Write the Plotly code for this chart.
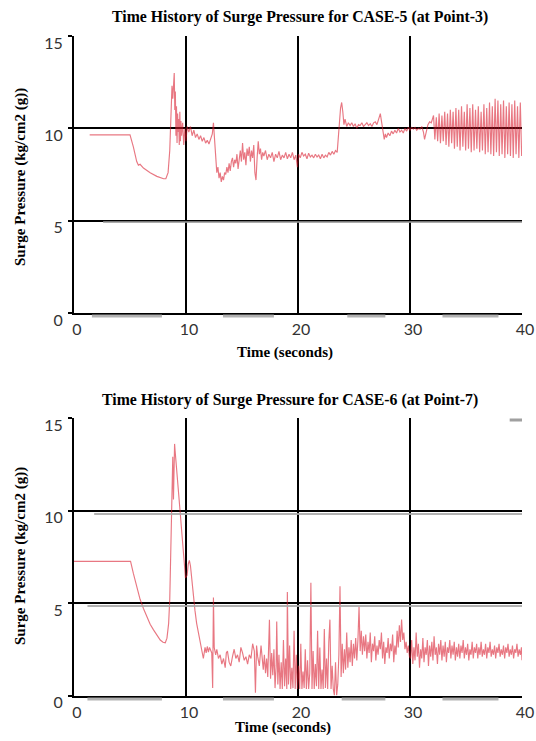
import plotly.graph_objects as go

# ---------------- CASE-5 (at Point-3) ----------------
time5 = [1.4, 5.0, 5.3, 5.6, 5.75, 5.9, 6.2, 6.8, 7.4, 8.0, 8.2, 8.4, 8.55, 8.65, 8.75, 8.82, 8.88, 8.95,
         9.0, 9.05, 9.1, 9.15, 9.2, 9.25, 9.3, 9.35, 9.4, 9.45, 9.5, 9.55, 9.6, 9.7, 9.8, 9.9,
         10.0, 10.1, 10.25, 10.4, 10.55, 10.7, 10.85, 11.0, 11.15, 11.3, 11.45, 11.6, 11.75, 11.9,
         12.05, 12.2, 12.35, 12.45, 12.55, 12.65, 12.75, 12.85, 12.95, 13.05, 13.15, 13.25, 13.35,
         13.45, 13.55, 13.65, 13.75, 13.85, 13.95, 14.05, 14.15, 14.25, 14.35, 14.45, 14.55, 14.65,
         14.75, 14.85, 14.95, 15.05, 15.15, 15.25, 15.35, 15.45, 15.55, 15.65, 15.75, 15.85, 15.95,
         16.05, 16.15, 16.25, 16.35, 16.45, 16.55, 16.65, 16.75, 16.85, 16.95, 17.1, 17.25, 17.4,
         17.55, 17.7, 17.85, 18.0, 18.15, 18.3, 18.45, 18.6, 18.75, 18.9, 19.05, 19.2, 19.35, 19.5,
         19.65, 19.8, 19.95, 20.05, 20.2, 20.35, 20.5, 20.65, 20.8, 20.95, 21.1, 21.25, 21.4, 21.55,
         21.7, 21.85, 22.0, 22.15, 22.3, 22.45, 22.6, 22.75, 22.9, 23.05, 23.2, 23.35, 23.5, 23.6,
         23.7, 23.8, 23.9, 24.0, 24.1, 24.2, 24.35, 24.5, 24.65, 24.8, 24.95, 25.1, 25.25, 25.4,
         25.55, 25.7, 25.85, 26.0, 26.15, 26.3, 26.45, 26.6, 26.75, 26.9, 27.05, 27.2, 27.35, 27.5,
         27.6, 27.7, 27.8, 27.9, 28.05, 28.2, 28.35, 28.5, 28.65, 28.8, 28.95, 29.1, 29.25, 29.4,
         29.55, 29.7, 29.85, 30.0, 30.15, 30.3, 30.45, 30.6, 30.75, 30.9, 31.05, 31.2, 31.3, 31.45,
         31.6, 31.75, 31.9, 32.0,
         32.10, 32.22, 32.35, 32.47, 32.60, 32.72, 32.85, 32.97, 33.10, 33.22, 33.35, 33.47,
         33.60, 33.72, 33.85, 33.97, 34.10, 34.22, 34.35, 34.47, 34.60, 34.72, 34.85, 34.97,
         35.10, 35.22, 35.35, 35.47, 35.60, 35.72, 35.85, 35.97, 36.10, 36.22, 36.35, 36.47,
         36.60, 36.72, 36.85, 36.97, 37.10, 37.22, 37.35, 37.47, 37.60, 37.72, 37.85, 37.97,
         38.10, 38.22, 38.35, 38.47, 38.60, 38.72, 38.85, 38.97, 39.10, 39.22, 39.35, 39.47,
         39.60, 39.72, 39.85, 39.97]
pres5 = [9.65, 9.65, 9.0, 8.2, 8.0, 8.05, 7.85, 7.6, 7.4, 7.27, 7.27, 7.6, 8.8, 11.0, 12.3, 11.6, 12.8, 13.0,
         11.0, 12.0, 9.6, 11.2, 9.2, 10.8, 9.8, 10.5, 9.1, 10.9, 9.3, 10.4, 9.6, 10.3, 9.1, 10.0,
         9.3, 10.1, 9.8, 10.1, 9.6, 9.9, 9.5, 9.7, 9.4, 9.6, 9.3, 9.5, 9.2, 9.35,
         9.15, 9.4, 9.7, 10.3, 9.3, 8.2, 7.6, 7.9, 7.3, 7.6, 7.1, 7.4, 7.2,
         7.6, 7.5, 7.9, 7.6, 8.1, 7.7, 8.2, 8.4, 7.9, 8.3, 8.1, 8.6, 7.8,
         8.4, 8.8, 8.2, 9.2, 8.3, 8.7, 8.0, 8.9, 8.5, 9.0, 8.2, 8.8, 8.4,
         9.1, 7.6, 7.2, 8.4, 9.3, 8.6, 8.9, 8.3, 8.7, 8.5, 8.8, 8.3, 8.6,
         8.4, 8.7, 8.2, 8.6, 8.4, 8.75, 8.3, 8.55, 8.4, 8.7, 8.35, 8.6, 8.4, 8.7,
         8.3, 8.55, 7.9, 8.6, 8.4, 8.7, 8.5, 8.6, 8.35, 8.65, 8.45, 8.55, 8.4, 8.6,
         8.45, 8.55, 8.35, 8.6, 8.4, 8.55, 8.45, 8.7, 8.55, 8.75, 8.6, 8.8, 8.7, 9.3,
         10.3, 11.1, 11.4, 10.9, 10.2, 10.5, 10.1, 10.3, 10.15, 10.3, 10.1, 10.25, 10.0, 10.2,
         10.15, 10.3, 10.1, 10.2, 10.3, 10.15, 10.25, 10.1, 10.3, 10.35, 10.2, 10.5, 10.8, 10.2,
         9.6, 9.4, 9.7, 9.5, 9.75, 9.6, 9.85, 9.7, 9.9, 9.75, 10.0, 9.8, 9.9, 9.75,
         10.0, 9.85, 10.05, 9.9, 10.05, 9.95, 10.05, 9.9, 10.0, 9.95, 10.1, 9.8, 9.4, 9.9,
         10.2, 10.35, 10.3, 10.5,
         10.7, 9.4, 10.6, 9.3, 10.8, 9.2, 10.7, 9.3, 10.9, 9.1, 10.8, 9.0,
         11.0, 9.2, 10.9, 8.9, 11.1, 9.0, 11.0, 8.8, 11.2, 9.0, 10.9, 8.8,
         11.3, 8.9, 11.1, 8.7, 11.3, 8.8, 11.0, 8.9, 11.2, 8.7, 10.9, 8.8,
         11.3, 8.6, 11.1, 8.7, 11.4, 8.6, 11.2, 8.5, 11.6, 8.7, 11.5, 8.5,
         11.3, 8.6, 11.5, 8.4, 11.2, 8.6, 11.4, 8.5, 11.3, 8.4, 11.5, 8.6,
         11.2, 8.4, 11.4, 8.5]

# ---------------- CASE-6 (at Point-7) ----------------
time6 = [0.0, 5.05, 5.3, 5.6, 5.9, 6.2, 6.5, 6.8, 7.1, 7.4, 7.7, 7.95, 8.15, 8.3, 8.45, 8.55, 8.65,
         8.72, 8.78, 8.82, 8.88, 8.93, 8.98, 9.03, 9.1, 9.17, 9.3, 9.46, 9.6, 9.76, 9.87, 9.95,
         10.1, 10.2, 10.3, 10.4, 10.5, 10.65, 10.8, 10.95, 11.1, 11.25, 11.4, 11.55, 11.7, 11.8,
         11.9, 12.0, 12.1, 12.2, 12.3, 12.38, 12.45, 12.52, 12.65, 12.75, 12.9, 13.05, 13.2, 13.35,
         13.5, 13.6, 13.7, 13.85, 14.0, 14.15, 14.3, 14.45, 14.6, 14.75, 14.9, 15.05, 15.2, 15.35,
         15.5, 15.65, 15.8, 15.95, 16.1, 16.2, 16.3, 16.4, 16.55, 16.7, 16.8, 16.9, 17.0, 17.1,
         17.2, 17.3, 17.45, 17.55, 17.65, 17.75,
         17.85, 17.95, 18.05, 18.1, 18.2, 18.3, 18.4, 18.5, 18.6, 18.7, 18.8, 18.9, 19.0, 19.05,
         19.15, 19.25, 19.35, 19.45, 19.55, 19.65, 19.75, 19.85, 19.95, 20.05, 20.15, 20.25,
         20.35, 20.45, 20.55, 20.65, 20.75, 20.85, 20.95, 21.05, 21.15, 21.25, 21.35, 21.45,
         21.55, 21.65, 21.75, 21.85, 21.95, 22.05, 22.15, 22.25, 22.35, 22.45, 22.55, 22.65,
         22.75, 22.85, 22.95, 23.05, 23.15, 23.25, 23.35, 23.45, 23.55, 23.65, 23.75, 23.85,
         23.95, 24.05, 24.15, 24.25, 24.35, 24.45, 24.55, 24.65, 24.75, 24.85, 24.95, 25.05,
         25.15, 25.25, 25.35, 25.45, 25.55, 25.65, 25.75, 25.85, 25.95, 26.05, 26.15, 26.25,
         26.35, 26.45, 26.55, 26.65, 26.75, 26.85, 26.95, 27.05, 27.15, 27.25, 27.35, 27.45,
         27.55, 27.65, 27.75, 27.85, 27.95, 28.05, 28.15, 28.25, 28.35, 28.45, 28.55, 28.65,
         28.75, 28.85, 28.95, 29.05, 29.15, 29.25, 29.35, 29.45, 29.55, 29.65, 29.75, 29.85,
         29.95, 30.05, 30.15, 30.25, 30.35, 30.45, 30.55, 30.65, 30.75, 30.85, 30.95, 31.05,
         31.15, 31.25, 31.35, 31.45, 31.55, 31.65, 31.75, 31.85, 31.95, 32.05, 32.15, 32.25,
         32.35, 32.45, 32.55, 32.65, 32.75, 32.85, 32.95, 33.05, 33.15, 33.25, 33.35, 33.45,
         33.55, 33.65, 33.75, 33.85, 33.95, 34.05, 34.15, 34.25, 34.35, 34.45, 34.55, 34.65,
         34.75, 34.85, 34.95, 35.05, 35.15, 35.25, 35.35, 35.45, 35.55, 35.65, 35.75, 35.85,
         35.95, 36.05, 36.15, 36.25, 36.35, 36.45, 36.55, 36.65, 36.75, 36.85, 36.95, 37.05,
         37.15, 37.25, 37.35, 37.45, 37.55, 37.65, 37.75, 37.85, 37.95, 38.05, 38.15, 38.25,
         38.35, 38.45, 38.55, 38.65, 38.75, 38.85, 38.95, 39.05, 39.15, 39.25, 39.35, 39.45,
         39.55, 39.65, 39.75, 39.85, 39.95, 40.0]
pres6 = [7.25, 7.25, 6.6, 5.9, 5.2, 4.7, 4.25, 3.85, 3.55, 3.25, 3.0, 2.88, 2.85, 3.1, 3.9, 5.2, 7.5,
         9.9, 10.8, 12.9, 10.6, 13.4, 13.6, 13.2, 12.6, 12.3, 11.3, 10.05, 9.0, 8.0, 7.0, 6.35,
         6.5, 7.1, 7.3, 7.0, 6.3, 5.4, 4.6, 3.9, 3.4, 2.85, 2.4, 2.0, 2.6, 2.3,
         2.65, 2.35, 2.6, 2.45, 2.3, 0.4, 5.3, 2.6, 2.2, 2.5, 2.0, 2.2, 1.7, 2.0,
         1.5, 2.3, 2.4, 1.8, 1.6, 2.1, 2.5, 2.0, 2.2, 1.8, 2.6, 2.3, 1.9, 2.1,
         1.7, 2.2, 2.0, 2.8, 2.4, 0.15, 2.7, 2.1, 1.6, 2.7, 1.9, 1.4, 2.2, 1.2,
         2.0, 1.0, 4.1, 0.9, 2.3, 1.1,
         2.5, 0.4, 1.6, 4.0, 0.6, 2.2, 0.35, 1.8, 0.35, 3.0, 0.5, 2.0, 0.35, 5.6,
         0.6, 2.7, 0.35, 1.5, 0.4, 3.5, 0.35, 2.2, 0.35, 1.6, 0.35, 2.8,
         0.35, 1.3, 0.4, 2.5, 0.35, 1.9, 0.35, 1.2, 6.1, 0.35, 2.4, 0.35,
         1.7, 0.5, 3.5, 0.35, 2.6, 0.35, 1.4, 0.35, 3.6, 0.4, 2.0, 0.35,
         2.9, 4.1, 0.35, 1.6, 0.35, 0.0, 1.8, 0.0, 0.6, 2.2, 5.9, 1.0,
         2.8, 1.2, 2.5, 1.4, 3.4, 1.5, 2.6, 1.8, 3.0, 1.6, 2.8, 2.0,
         3.1, 1.9, 3.0, 4.8, 2.4, 3.5, 2.2, 3.2, 2.4, 3.3, 2.0, 2.9,
         2.3, 3.4, 1.8, 2.8, 2.4, 3.2, 1.9, 2.7, 2.2, 3.0, 2.5, 3.4,
         2.0, 2.9, 1.7, 2.6, 2.3, 3.1, 2.0, 2.8, 2.4, 3.3, 1.8, 2.7,
         2.2, 3.5, 2.6, 3.8, 2.9, 4.1, 3.0, 3.4, 2.5, 2.9, 2.3, 2.7,
         2.1, 2.0, 3.0, 1.7, 2.6, 1.9, 3.4, 2.1, 2.8, 1.5, 2.5, 2.0,
         3.1, 1.8, 2.6, 2.2, 3.0, 1.6, 2.7, 2.1, 2.9, 1.9, 3.2, 2.2,
         2.6, 1.7, 2.8, 2.2, 3.0, 1.9, 2.7, 2.1, 2.9, 1.8, 2.6, 2.3,
         3.0, 2.0, 2.7, 2.2, 2.9, 1.9, 2.6, 2.1, 2.8, 2.0, 2.7, 2.3,
         3.0, 2.0, 2.6, 2.2, 2.8, 1.9, 2.5, 2.2, 2.9, 2.0, 2.6, 2.3,
         2.8, 2.0, 2.6, 2.2, 2.9, 2.1, 2.5, 2.2, 2.8, 2.0, 2.6, 2.3,
         2.9, 2.1, 2.5, 2.2, 2.7, 2.0, 2.6, 2.3, 2.8, 2.1, 2.5, 2.2,
         2.7, 2.0, 2.6, 2.3, 2.8, 2.1, 2.5, 2.2, 2.7, 2.0, 2.5, 2.3,
         2.8, 2.1, 2.5, 2.2, 2.6, 1.9]

x_ticks = [0, 10, 20, 30, 40]
y_ticks = [0, 5, 10, 15]
title5 = "Time History of Surge Pressure for CASE-5 (at Point-3)"
title6 = "Time History of Surge Pressure for CASE-6 (at Point-7)"
x_title = "Time (seconds)"
y_title = "Surge Pressure (kg/cm2 (g))"

W, H = 536, 741
line_style = dict(color="rgba(215,20,40,0.58)", width=1.15)

fig = go.Figure()
fig.add_trace(go.Scatter(x=time5, y=pres5, mode="lines", line=line_style,
                         xaxis="x", yaxis="y", showlegend=False, hoverinfo="skip"))
fig.add_trace(go.Scatter(x=time6, y=pres6, mode="lines", line=line_style,
                         xaxis="x2", yaxis="y2", showlegend=False, hoverinfo="skip"))

tick_font = dict(family="Lato", size=16, color="#333")
common_x = dict(range=[0, 40], tickvals=x_ticks, showgrid=True, gridcolor="black", gridwidth=2,
                zeroline=False, showline=True, linecolor="black", linewidth=2,
                tickfont=tick_font, ticks="", ticklabelshift=3, ticklabelstandoff=1,
                automargin=False, fixedrange=True)
common_y = dict(range=[0, 15], tickvals=y_ticks, showgrid=True, gridcolor="black", gridwidth=2,
                zeroline=False, showline=True, linecolor="black", linewidth=2,
                tickfont=tick_font, ticks="outside", ticklen=4, tickwidth=2, tickcolor="black",
                ticklabelshift=7, ticklabelstandoff=2, automargin=False, fixedrange=True)

def px_x(p):
    return p / W

def px_y(p):
    return 1 - p / H

fig.update_layout(
    width=W, height=H,
    margin=dict(l=0, r=0, t=0, b=0, autoexpand=False),
    paper_bgcolor="white", plot_bgcolor="white",
    xaxis=dict(domain=[px_x(74), px_x(522)], anchor="y", **common_x),
    yaxis=dict(domain=[px_y(313), px_y(36)], anchor="x", **common_y),
    xaxis2=dict(domain=[px_x(74), px_x(522)], anchor="y2", **common_x),
    yaxis2=dict(domain=[px_y(695.5), px_y(418)], anchor="x2", **common_y),
)

title_font = dict(family="Liberation Serif", size=15.8, color="black")
label_font = dict(family="Liberation Serif", size=15, color="black")
ann = []
ann.append(dict(text="<b>" + title5 + "</b>", x=px_x(300), y=px_y(17), font=title_font))
ann.append(dict(text="<b>" + x_title + "</b>", x=px_x(285), y=px_y(353), font=label_font))
ann.append(dict(text="<b>" + y_title + "</b>", x=px_x(20), y=px_y(177), font=label_font, textangle=-90))
ann.append(dict(text="<b>" + title6 + "</b>", x=px_x(290), y=px_y(400), font=title_font))
ann.append(dict(text="<b>" + x_title + "</b>", x=px_x(283), y=px_y(727), font=label_font))
ann.append(dict(text="<b>" + y_title + "</b>", x=px_x(20), y=px_y(556), font=label_font, textangle=-90))
for a in ann:
    a.update(xref="paper", yref="paper", showarrow=False, xanchor="center", yanchor="middle")
fig.update_layout(annotations=ann)

# faint grey scan-like rule segments seen in the original
grey = dict(color="rgba(170,170,170,0.9)", width=3)
shapes = []
for (a, b) in [(1.6, 7.85), (13.3, 17.85), (24.4, 27.8), (32.9, 37.9)]:
    shapes.append(dict(type="line", xref="x", yref="paper", x0=a, x1=b,
                       y0=px_y(316), y1=px_y(316), line=grey))
for (a, b) in [(1.2, 7.85), (13.3, 17.85), (23.9, 27.8), (32.9, 37.9)]:
    shapes.append(dict(type="line", xref="x2", yref="paper", x0=a, x1=b,
                       y0=px_y(699), y1=px_y(699), line=grey))
shapes.append(dict(type="line", xref="x2", yref="paper", x0=1.8, x1=40,
                   y0=px_y(514), y1=px_y(514), line=dict(color="rgba(170,170,170,0.9)", width=2)))
shapes.append(dict(type="line", xref="x2", yref="paper", x0=1.2, x1=40,
                   y0=px_y(606), y1=px_y(606), line=dict(color="rgba(170,170,170,0.9)", width=2)))
shapes.append(dict(type="line", xref="x", yref="paper", x0=2.6, x1=40,
                   y0=px_y(222), y1=px_y(222), line=dict(color="rgba(150,150,150,0.8)", width=2)))
shapes.append(dict(type="line", xref="x2", yref="paper", x0=38.9, x1=40,
                   y0=px_y(420), y1=px_y(420), line=dict(color="rgba(150,150,150,0.9)", width=3)))
fig.update_layout(shapes=shapes)

fig.write_html("out.html", config={"displayModeBar": False},
               post_script="document.body.style.margin='0';document.body.style.overflow='hidden';")
